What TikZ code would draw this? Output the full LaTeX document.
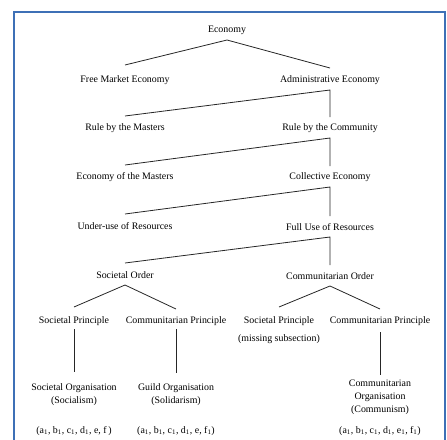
\documentclass[tikz,border=0pt]{standalone}
\usepackage{fontspec}
\setmainfont{Liberation Serif}
\usetikzlibrary{calc}
\definecolor{framebl}{HTML}{3E70B6}
\tikzset{lbl/.style={inner sep=0pt,align=center,font=\fontsize{9.9}{13}\selectfont},
  branch/.style={line width=.8pt,black!85}}
\begin{document}
\begin{tikzpicture}[x=1pt,y=-1pt]
\useasboundingbox (0,0) rectangle (447,439);
\draw[framebl,line width=2pt] (14,460) -- (14,12) -- (445,12) -- (445,460);
% upper levels
\node[lbl] (eco) at (227,30) {Economy};
\node[lbl] (fme) at (125,80) {Free Market Economy};
\node[lbl] (adm) at (330,80) {Administrative Economy};
\node[lbl] (rbm) at (125,128) {Rule by the Masters};
\node[lbl] (rbc) at (330,128) {Rule by the Community};
\node[lbl] (eom) at (125,177) {Economy of the Masters};
\node[lbl] (cole) at (330,177) {Collective Economy};
\node[lbl] (under) at (125,226) {Under-use of Resources};
\node[lbl] (full) at (330,227) {Full Use of Resources};
\node[lbl] (sord) at (125,275) {Societal Order};
\node[lbl] (cord) at (330,276) {Communitarian Order};
% principles
\node[lbl] (sp1) at (74,321) {Societal Principle};
\node[lbl] (cp1) at (176,321) {Communitarian Principle};
\node[lbl] (sp2) at (279,321) {Societal Principle};
\node[lbl] (cp2) at (380,321) {Communitarian Principle};
\node[lbl] (miss) at (279,339) {(missing subsection)};
% organisations
\node[lbl] (sorg) at (74,395) {Societal Organisation\\(Socialism)};
\node[lbl] (gorg) at (176,395) {Guild Organisation\\(Solidarism)};
\node[lbl] (corg) at (380,397) {Communitarian\\Organisation\\(Communism)};
\node[lbl] (t1) at (74,431) {(a\textsubscript{1}, b\textsubscript{1}, c\textsubscript{1}, d\textsubscript{1}, e, f\,)};
\node[lbl] (t2) at (176,431) {(a\textsubscript{1}, b\textsubscript{1}, c\textsubscript{1}, d\textsubscript{1}, e, f\textsubscript{1})};
\node[lbl] (t3) at (380,431) {(a\textsubscript{1}, b\textsubscript{1}, c\textsubscript{1}, d\textsubscript{1}, e\textsubscript{1}, f\textsubscript{1})};
% connectors
\draw[branch] ($(fme)+(0,-15)$) -- ($(eco)+(0,10)$) -- ($(adm)+(0,-12)$);
\foreach \a/\b/\c in {adm/rbm/rbc,rbc/eom/cole,cole/under/full,full/sord/cord}
  \draw[branch] ($(\b)+(0,-12)$) -- ($(\a)+(0,10)$) -- ($(\c)+(0,-11)$);
\draw[branch] ($(sp1)+(0,-14)$) -- ($(sord)+(0,10)$) -- ($(cp1)+(0,-12)$);
\draw[branch] ($(sp2)+(0,-14)$) -- ($(cord)+(0,10)$) -- ($(cp2)+(0,-12)$);
\draw[branch] ($(sp1)+(0,8)$) -- ($(sorg)+(0,-23)$);
\draw[branch] ($(cp1)+(0,8)$) -- ($(gorg)+(0,-22)$);
\draw[branch] ($(cp2)+(0,11)$) -- ($(corg)+(0,-22)$);
\end{tikzpicture}
\end{document}
